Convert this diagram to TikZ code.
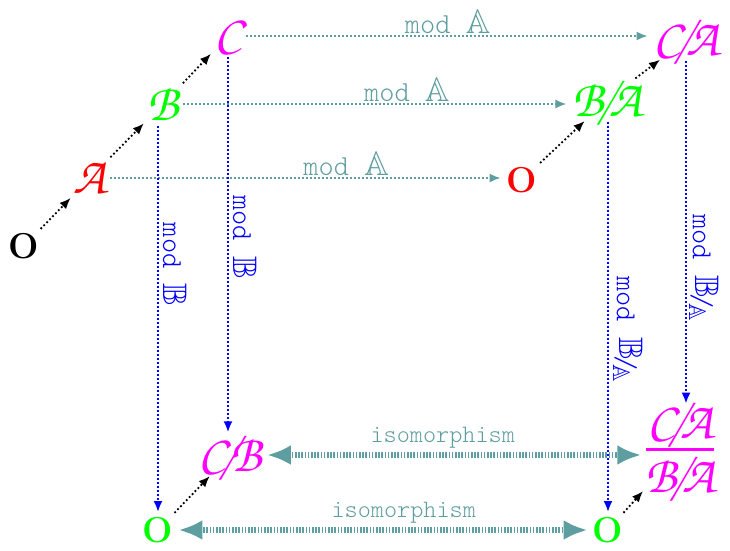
\documentclass[tikz,border=0pt]{standalone}
\usepackage[T1,TU]{fontenc}
\usepackage{amsmath,amssymb}
\usetikzlibrary{arrows.meta}
\definecolor{cadet}{RGB}{95,158,160}
\definecolor{lime}{RGB}{0,255,0}
\definecolor{mag}{RGB}{255,0,255}
\newcommand\handfont{\fontencoding{T1}\fontfamily{pzc}\fontseries{m}\fontshape{it}\fontsize{52}{52}\selectfont}
\newcommand\lighttt{\fontfamily{lmtt}\fontseries{l}\fontshape{n}}
\newcommand\modfont{\lighttt\fontsize{29}{29}\selectfont}
\newcommand\quot{\kern-0.12em/\kern-0.12em}
\newcommand\bigbb[1]{{\fontsize{34}{34}\selectfont$\mathbb{#1}$}}
\newcommand\bbfrac[2]{\raisebox{0.2ex}{\bigbb{#1}}\kern-0.15em/\kern-0.2em\raisebox{-0.3ex}{\fontsize{24}{24}\selectfont$\mathbb{#2}$}}
\tikzset{
  hand/.style={font=\handfont, inner sep=2pt},
  zero/.style={font=\fontsize{36}{36}\selectfont\bfseries, inner sep=2pt},
  tip/.style={-{Latex[length=11pt,width=9pt]}},
  incl/.style={draw=black, line width=1.8pt, dash pattern=on 1.8pt off 2.4pt, tip, shorten <=3pt, shorten >=2pt},
  modh/.style={draw=cadet, line width=1.8pt, dash pattern=on 1.8pt off 2.2pt, tip, shorten <=2pt, shorten >=4pt},
  modv/.style={draw=blue, line width=2pt, dash pattern=on 2pt off 2pt, tip, shorten <=2pt, shorten >=3pt},
  hlbl/.style={text=cadet, font=\modfont, inner sep=1pt, above},
  vlbl/.style={text=blue, font=\modfont, inner sep=4pt, rotate=-90, anchor=south},
  iso/.style={draw=cadet, line width=6pt, dash pattern=on 1.6pt off 1.6pt,
    {Latex[length=24pt,width=20pt]}-{Latex[length=24pt,width=20pt]}, shorten <=3pt, shorten >=3pt},
  isolbl/.style={text=cadet, font=\lighttt\fontsize{25}{25}\selectfont, inner sep=1pt, above=3pt},
}
\begin{document}
\begin{tikzpicture}[x=1pt,y=-1pt]
\useasboundingbox (0,0) rectangle (730,550);

% the chain 0 -> A -> B -> C
\node[zero] (O1) at (24,246) {O};
\node[hand, red] (A) at (90,178) {A};
\node[hand, lime] (B) at (163,104) {B};
\node[hand, mag] (C) at (228,36) {C};

% the quotients by A
\node[zero, red] (O2) at (522,180) {O};
\node[hand, lime] (BA) at (607,100) {B\quot A};
\node[hand, mag] (CA) at (686,40) {C\quot A};

% the quotients by B
\node[zero, lime] (O3) at (158,530) {O};
\node[hand, mag] (CB) at (230,455) {C\quot B};
\node[zero, lime] (O4) at (608,530) {O};
\node[hand, mag, inner sep=0pt] (Q) at (680,450) {$\genfrac{}{}{2.5pt}{0}{\hbox{C\quot A}}{\hbox{B\quot A}}$};

% inclusions
\draw[incl] (O1) -- (A);
\draw[incl] (A) -- (B);
\draw[incl] (B) -- (C);
\draw[incl] (O2) -- (BA);
\draw[incl] (BA) -- (CA);
\draw[incl] (O3) -- (CB);
\draw[incl] (O4) -- (Q);

% reduction mod A
\draw[modh] (C.east) -- (C.east -| CA.west) node[hlbl, pos=.5] {mod \bigbb{A}};
\draw[modh] (B.east) -- (B.east -| BA.west) node[hlbl, pos=.58] {mod \bigbb{A}};
\draw[modh] (A.east) -- (A.east -| O2.west) node[hlbl, pos=.6] {mod \bigbb{A}};

% reduction mod B and mod B/A
\draw[modv] (O3 |- B.south) -- (O3.north) node[vlbl, pos=.36] {mod \bigbb{B}};
\draw[modv] (C.south) -- (C.south |- CB.north) node[vlbl, pos=.48] {mod \bigbb{B}};
\draw[modv] (O4 |- BA.south) -- (O4.north) node[vlbl, pos=.53] {mod \bbfrac{B}{A}};
\draw[modv] (CA.south) -- (CA.south |- Q.north) node[vlbl, inner sep=2pt, pos=.6] {mod \bbfrac{B}{A}};

% isomorphisms
\draw[iso] (CB.east) -- (CB.east -| Q.west) node[isolbl, pos=.47] {isomorphism};
\draw[iso] (O3) -- (O4) node[isolbl, pos=.55] {isomorphism};
\end{tikzpicture}
\end{document}
